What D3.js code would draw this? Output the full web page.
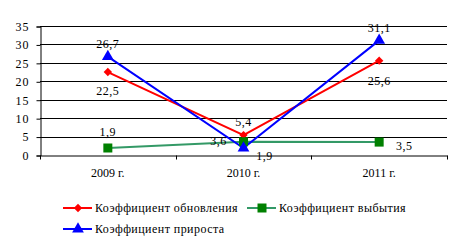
<!DOCTYPE html>
<html>
<head>
<meta charset="utf-8">
<script src="https://cdn.jsdelivr.net/npm/d3@7"></script>
<style>
  body { margin: 0; background: #fff; }
  svg { display: block; }
  svg text { font-family: 'Liberation Serif', 'Times New Roman', serif; font-size: 12px; fill: #000; }
</style>
</head>
<body>
<div id="chart"></div>
<script>
const years = ['2009 г.', '2010 г.', '2011 г.']
const renewal = [22.5, 5.4, 25.6]
const retirement = [1.9, 3.6, 3.5]
const growth = [26.7, 1.9, 31.1]
const yTicks = [0, 5, 10, 15, 20, 25, 30, 35]

// label placement per point: [dx, dy]
const series = [
  { name: 'Коэффициент обновления', values: renewal, line: '#ff0000', fill: '#ff0000', shape: d3.symbolDiamond2, size: 45,
    labels: [[0, 19], [0, -13], [0, 20]] },
  { name: 'Коэффициент выбытия', values: retirement, line: '#339966', fill: '#008000', shape: d3.symbolSquare, size: 81,
    labels: [[0, -16], [-25, -1], [25, 4]] },
  { name: 'Коэффициент прироста', values: growth, line: '#0000ff', fill: '#0000ff', shape: d3.symbolTriangle, size: 60,
    labels: [[0, -13], [21, 8], [0, -13]] }
]

const w = 462, h = 246
const margin = { top: 26, right: 15, bottom: 91, left: 40 }

const svg = d3.select('#chart').append('svg')
  .attr('width', w).attr('height', h)

const x = d3.scaleBand().domain(years).range([margin.left, w - margin.right])
const y = d3.scaleLinear().domain([0, 35]).range([h - margin.bottom, margin.top])

// gridlines
svg.append('g')
  .selectAll('line')
  .data(yTicks.slice(1))
  .enter().append('line')
  .attr('x1', margin.left).attr('x2', w - margin.right)
  .attr('y1', d => Math.round(y(d)) + 0.5).attr('y2', d => Math.round(y(d)) + 0.5)
  .attr('stroke', '#000')

svg.append('g')
  .attr('transform', 'translate(' + (margin.left + 0.5) + ',0.5)')
  .call(d3.axisLeft(y).tickValues(yTicks).tickSize(4).tickPadding(7))
  .call(g => g.selectAll('text').style('letter-spacing', '1px'))

const xAxis = svg.append('g')
  .attr('transform', 'translate(0,' + (y(0) + 0.5) + ')')
  .call(d3.axisBottom(x).tickSize(0).tickPadding(13))

// category separators
xAxis.selectAll('.sep')
  .data(x.domain().concat(['end']))
  .enter().append('line')
  .attr('x1', (d, i) => Math.round(margin.left + i * x.step()) + 0.5)
  .attr('x2', (d, i) => Math.round(margin.left + i * x.step()) + 0.5)
  .attr('y1', 0).attr('y2', 4)
  .attr('stroke', '#000')

const line = d3.line()
  .x((d, i) => x(years[i]) + x.bandwidth() / 2)
  .y(d => y(d))

series.forEach(s => {
  svg.append('path')
    .datum(s.values)
    .attr('d', line)
    .attr('fill', 'none')
    .attr('stroke', s.line)
    .attr('stroke-width', 2)
})

series.forEach(s => {
  svg.append('g').selectAll('path')
    .data(s.values)
    .enter().append('path')
    .attr('d', d3.symbol().type(s.shape).size(s.size))
    .attr('transform', (d, i) => 'translate(' + (x(years[i]) + x.bandwidth() / 2) + ',' + y(d) + ')')
    .attr('fill', s.fill)
})

series.forEach(s => {
  svg.append('g').selectAll('text')
    .data(s.values)
    .enter().append('text')
    .attr('x', (d, i) => x(years[i]) + x.bandwidth() / 2 + s.labels[i][0])
    .attr('y', (d, i) => y(d) + s.labels[i][1])
    .attr('text-anchor', 'middle')
    .attr('dy', '0.35em')
    .style('letter-spacing', '0.5px')
    .text(d => String(d).replace('.', ','))
})

// legend
const legendPos = [[63, 208], [247, 208], [63, 229]]
const legend = svg.append('g').selectAll('g')
  .data(series)
  .enter().append('g')
  .attr('transform', (d, i) => 'translate(' + legendPos[i][0] + ',' + legendPos[i][1] + ')')

legend.append('line')
  .attr('x1', 0).attr('x2', 29)
  .attr('stroke', d => d.line).attr('stroke-width', 2)
legend.append('path')
  .attr('d', d => d3.symbol().type(d.shape).size(d.size)())
  .attr('transform', 'translate(15,0)')
  .attr('fill', d => d.fill)
legend.append('text')
  .attr('x', 32).attr('dy', '0.35em')
  .style('letter-spacing', '0.45px')
  .text(d => d.name)
</script>
</body>
</html>
